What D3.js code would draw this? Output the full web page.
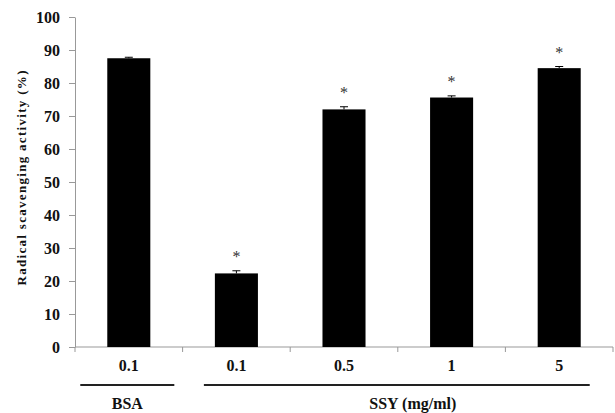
<!DOCTYPE html>
<html lang="en">
<head>
<meta charset="utf-8">
<title>Radical scavenging activity</title>
<script src="https://cdn.jsdelivr.net/npm/d3@7"></script>
<style>
  body { margin: 0; background: #fff; }
  svg text { font-family: "Liberation Serif", "Times New Roman", serif; font-weight: bold; fill: #111; }
  .axis path, .axis line { stroke: #999; }
</style>
</head>
<body>
<svg id="chart" width="615" height="413"></svg>
<script>
// data
var categories = ['BSA 0.1', 'SSY 0.1', 'SSY 0.5', 'SSY 1', 'SSY 5'];
var tickLabels = ['0.1', '0.1', '0.5', '1', '5'];
var values = [87.5, 22.3, 72.0, 75.6, 84.5];
var errors = [0.3, 0.8, 0.8, 0.5, 0.5];
var signif = [false, true, true, true, true];
var groups = [
  {label: 'BSA', from: 0, to: 0},
  {label: 'SSY (mg/ml)', from: 1, to: 4}
];
var yTicks = [0, 10, 20, 30, 40, 50, 60, 70, 80, 90, 100];

var svg = d3.select('#chart');
var mLeft = 75, mRight = 613, mTop = 17, mBottom = 347;

var x = d3.scaleBand().domain(categories).range([mLeft, mRight]).paddingInner(0.6).paddingOuter(0.3);
var y = d3.scaleLinear().domain([0, 100]).range([mBottom, mTop]);

// y axis
var yAxis = svg.append('g')
    .attr('class', 'axis')
    .attr('transform', 'translate(' + mLeft + ',0)')
    .call(d3.axisLeft(y).tickValues(yTicks).tickSize(6).tickSizeOuter(0).tickPadding(9));
yAxis.selectAll('text').style('font-size', '16px').attr('dy', '0.35em');

// x axis: ticks at category boundaries
var bounds = d3.range(categories.length + 1).map(function(i) { return mLeft + i * (mRight - mLeft) / categories.length; });
var xg = svg.append('g').attr('class', 'axis');
xg.append('line').attr('x1', mLeft).attr('x2', mRight).attr('y1', mBottom).attr('y2', mBottom);
xg.selectAll('line.tk').data(bounds).enter().append('line')
    .attr('class', 'tk')
    .attr('x1', function(d) { return d; }).attr('x2', function(d) { return d; })
    .attr('y1', mBottom).attr('y2', mBottom + 5);

svg.selectAll('text.xlab').data(categories).enter().append('text')
    .attr('class', 'xlab')
    .attr('x', function(d) { return x(d) + x.bandwidth() / 2; })
    .attr('y', mBottom + 24)
    .attr('text-anchor', 'middle')
    .style('font-size', '16px')
    .text(function(d, i) { return tickLabels[i]; });

// bars
svg.selectAll('rect.bar').data(values).enter().append('rect')
    .attr('class', 'bar')
    .attr('x', function(d, i) { return x(categories[i]); })
    .attr('width', x.bandwidth())
    .attr('y', function(d) { return y(d); })
    .attr('height', function(d) { return y(0) - y(d); })
    .attr('fill', '#000');

// error bars and significance marks
values.forEach(function(v, i) {
  var cx = x(categories[i]) + x.bandwidth() / 2;
  svg.append('line').attr('x1', cx).attr('x2', cx)
      .attr('y1', y(v)).attr('y2', y(v + errors[i])).attr('stroke', '#000');
  svg.append('line').attr('x1', cx - 4).attr('x2', cx + 4)
      .attr('y1', y(v + errors[i])).attr('y2', y(v + errors[i])).attr('stroke', '#000');
  if (signif[i]) {
    svg.append('text')
        .attr('x', cx).attr('y', y(v + errors[i]) - 9)
        .attr('text-anchor', 'middle')
        .style('font-size', '16px').style('font-weight', 'normal').style('fill', '#333')
        .text('*');
  }
});

// group brackets under the x labels
var padL = [27, 11], padR = [24, 9], labelShift = [0, 16];
groups.forEach(function(g, i) {
  var x1 = x(categories[g.from]) - padL[i], x2 = x(categories[g.to]) + x.bandwidth() + padR[i];
  svg.append('line').attr('x1', x1).attr('x2', x2)
      .attr('y1', 385).attr('y2', 385).attr('stroke', '#222').attr('stroke-width', 2);
  svg.append('text')
      .attr('x', (x1 + x2) / 2 + labelShift[i])
      .attr('y', 409)
      .attr('text-anchor', 'middle')
      .style('font-size', '16px')
      .text(g.label);
});

// y label
svg.append('text')
    .attr('transform', 'translate(26,178) rotate(-90)')
    .attr('text-anchor', 'middle')
    .attr('textLength', 215)
    .attr('lengthAdjust', 'spacing')
    .style('font-size', '13px')
    .text('Radical scavenging activity (%)');
</script>
</body>
</html>
